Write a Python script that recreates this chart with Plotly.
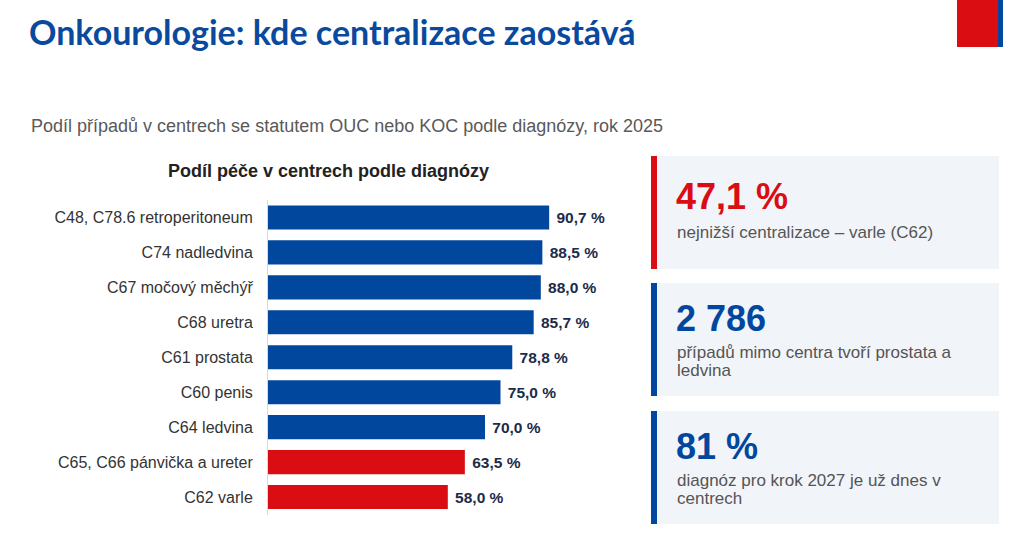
import plotly.graph_objects as go

# Data
diagnoses = [
    "C48, C78.6 retroperitoneum",
    "C74 nadledvina",
    "C67 močový měchýř",
    "C68 uretra",
    "C61 prostata",
    "C60 penis",
    "C64 ledvina",
    "C65, C66 pánvička a ureter",
    "C62 varle",
]
share = [90.7, 88.5, 88.0, 85.7, 78.8, 75.0, 70.0, 63.5, 58.0]
lagging = [False, False, False, False, False, False, False, True, True]

kpi_values = ["47,1 %", "2 786", "81 %"]
kpi_texts = [
    ["nejnižší centralizace – varle (C62)"],
    ["případů mimo centra tvoří prostata a", "ledvina"],
    ["diagnóz pro krok 2027 je už dnes v", "centrech"],
]
kpi_red = [True, False, False]

BLUE = "#02479E"
RED = "#D90D12"
W, H = 1024, 545
SANS = "Liberation Sans, Arial"


def px(x):
    return x / W


def py(y):
    return 1 - y / H


bar_colors = [RED if flag else BLUE for flag in lagging]
labels = ["\u00a0" + f"{v:.1f}".replace(".", ",") + " %" for v in share]

fig = go.Figure()
fig.add_trace(go.Bar(
    x=share,
    y=diagnoses,
    orientation="h",
    marker=dict(color=bar_colors, line=dict(width=0)),
    width=0.69,
    text=labels,
    textposition="outside",
    textfont=dict(family=SANS, size=15.5, color="#1C2B4A", weight="bold"),
    cliponaxis=False,
    showlegend=False,
    hovertemplate="%{y}: %{x:.1f} %<extra></extra>",
))

shapes = []
annotations = []

# top-right decoration
shapes.append(dict(type="rect", xref="paper", yref="paper",
                   x0=px(957), x1=px(998), y0=py(47), y1=py(0),
                   fillcolor=RED, line=dict(width=0), layer="above"))
shapes.append(dict(type="rect", xref="paper", yref="paper",
                   x0=px(998), x1=px(1003), y0=py(47), y1=py(0),
                   fillcolor=BLUE, line=dict(width=0), layer="above"))

# KPI cards (pixel positions)
card_tops = [156, 283, 411]
card_h = 113
num_y = [197, 318, 446]
txt_y = [233, 352, 480]
for i, (val, lines, red) in enumerate(zip(kpi_values, kpi_texts, kpi_red)):
    top = card_tops[i]
    col = RED if red else BLUE
    shapes.append(dict(type="rect", xref="paper", yref="paper",
                       x0=px(651), x1=px(999), y0=py(top + card_h), y1=py(top),
                       fillcolor="#F1F4F9", line=dict(width=0), layer="below"))
    shapes.append(dict(type="rect", xref="paper", yref="paper",
                       x0=px(651), x1=px(657), y0=py(top + card_h), y1=py(top),
                       fillcolor=col, line=dict(width=0), layer="above"))
    annotations.append(dict(text=val, xref="paper", yref="paper",
                            x=px(674), y=py(num_y[i]), xanchor="left", yanchor="middle",
                            showarrow=False,
                            font=dict(family=SANS, size=36, color=col, weight="bold")))
    for j, line in enumerate(lines):
        annotations.append(dict(text=line, xref="paper", yref="paper",
                                x=px(675), y=py(txt_y[i] + 18 * j), xanchor="left", yanchor="middle",
                                align="left", showarrow=False,
                                font=dict(family=SANS, size=17, color="#555555")))

# headings
annotations.append(dict(text="Onkourologie: kde centralizace zaostává", xref="paper", yref="paper",
                        x=px(27), y=py(31), xanchor="left", yanchor="middle", showarrow=False,
                        font=dict(family="Lato", size=34, color="#0A4A9E", weight="bold")))
annotations.append(dict(text="Podíl případů v centrech se statutem OUC nebo KOC podle diagnózy, rok 2025",
                        xref="paper", yref="paper",
                        x=px(29), y=py(126), xanchor="left", yanchor="middle", showarrow=False,
                        font=dict(family=SANS, size=18, color="#595959")))
annotations.append(dict(text="Podíl péče v centrech podle diagnózy", xref="paper", yref="paper",
                        x=px(328), y=py(171), xanchor="center", yanchor="middle", showarrow=False,
                        font=dict(family=SANS, size=18, color="#222222", weight="bold")))

fig.update_layout(
    width=W, height=H,
    margin=dict(l=0, r=0, t=0, b=0),
    paper_bgcolor="white",
    plot_bgcolor="white",
    shapes=shapes,
    annotations=annotations,
    bargap=0.3,
)
fig.update_xaxes(domain=[px(268), px(578)], range=[0, 100], visible=False, automargin=False)
fig.update_yaxes(domain=[py(514.5), py(200)], autorange="reversed", automargin=False,
                 showline=True, linecolor="#D9D9D9", linewidth=1, ticks="",
                 ticklabelstandoff=11,
                 tickfont=dict(family=SANS, size=16, color="#333333"),
                 showgrid=False, zeroline=False)

fig.write_html("out.html", config={"displayModeBar": False},
               post_script="document.body.style.margin='0';")
